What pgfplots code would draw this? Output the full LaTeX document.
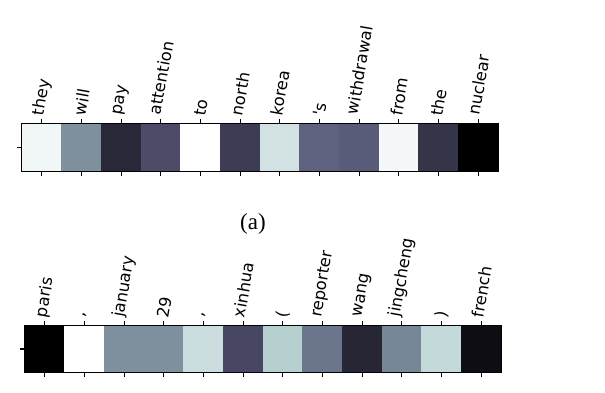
\documentclass[border=0pt]{standalone}
\usepackage{fontspec}
\setmainfont{Liberation Serif}
\newfontfamily\lab{DejaVu Sans}
\usepackage{pgfplots}
\pgfplotsset{compat=1.18}
\newlength\lw
\newcommand\tl[1]{\settowidth\lw{#1}\raisebox{0.088\lw}[\height][\depth]{#1}}
\pgfplotsset{
 tokstrip/.style={
  scale only axis, width=476pt,
  xmin=-0.5, xmax=11.5, ymin=0, ymax=1,
  xtick={0,...,11}, ytick={0.5}, yticklabels={},
  tick align=outside, xtick pos=both, ytick pos=left, xticklabel pos=upper,
  major tick length=5pt,
  tick style={black, line width=1.1pt},
  axis line style={black, line width=1.1pt},
  xticklabel style={rotate=80, anchor=west, font=\lab\fontsize{16.3}{18}\selectfont, inner sep=3pt},
  colormap={bone}{rgb(0cm)=(0,0,0); rgb(3.65cm)=(0.319,0.319,0.444); rgb(7.46cm)=(0.652,0.777,0.778); rgb(10cm)=(1,1,1)},
  point meta min=0, point meta max=1,
 }
}
\begin{document}
\begin{tikzpicture}[x=1pt,y=1pt]
\path[use as bounding box] (0,0) rectangle (605,393);
\begin{axis}[tokstrip, height=47pt, at={(22pt,222pt)}, anchor=south west,
  xticklabels={\tl{they},\tl{will},\tl{pay},\tl{attention},\tl{to},\tl{north},\tl{korea},\tl{'s},\tl{withdrawal},\tl{from},\tl{the},\tl{nuclear}}]
\addplot[surf, shader=flat corner, point meta=explicit, mesh/cols=13] table[meta=c]{
x y c
-0.5 0 0.96
0.5 0 0.57
1.5 0 0.18
2.5 0 0.34
3.5 0 1.00
4.5 0 0.27
5.5 0 0.87
6.5 0 0.42
7.5 0 0.40
8.5 0 0.97
9.5 0 0.24
10.5 0 0.00
11.5 0 0.00
-0.5 1 0.96
0.5 1 0.57
1.5 1 0.18
2.5 1 0.34
3.5 1 1.00
4.5 1 0.27
5.5 1 0.87
6.5 1 0.42
7.5 1 0.40
8.5 1 0.97
9.5 1 0.24
10.5 1 0.00
11.5 1 0.00
};
\end{axis}
\node[font=\fontsize{23}{26}\selectfont] at (253,169) {(a)};
\begin{axis}[tokstrip, height=46pt, at={(25pt,21pt)}, anchor=south west,
  xticklabels={\tl{paris},\tl{,},\tl{january},\tl{29},\tl{,},\tl{xinhua},\tl{(},\tl{reporter},\tl{wang},\tl{jingcheng},\tl{)},\tl{french}}]
\addplot[surf, shader=flat corner, point meta=explicit, mesh/cols=13] table[meta=c]{
x y c
-0.5 0 0.00
0.5 0 1.00
1.5 0 0.57
2.5 0 0.57
3.5 0 0.85
4.5 0 0.32
5.5 0 0.79
6.5 0 0.48
7.5 0 0.17
8.5 0 0.54
9.5 0 0.83
10.5 0 0.06
11.5 0 0.06
-0.5 1 0.00
0.5 1 1.00
1.5 1 0.57
2.5 1 0.57
3.5 1 0.85
4.5 1 0.32
5.5 1 0.79
6.5 1 0.48
7.5 1 0.17
8.5 1 0.54
9.5 1 0.83
10.5 1 0.06
11.5 1 0.06
};
\end{axis}
\end{tikzpicture}
\end{document}
